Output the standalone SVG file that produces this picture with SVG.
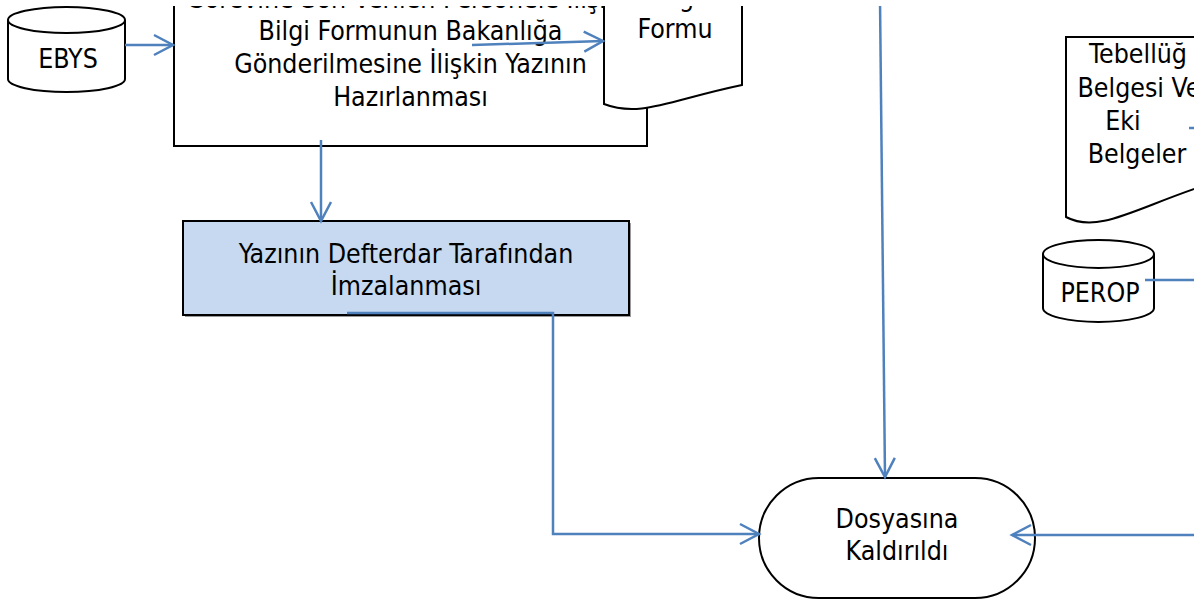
<svg xmlns="http://www.w3.org/2000/svg" width="1202" height="605" viewBox="0 0 1202 605">
<style>
.t{font-family:"DejaVu Sans Condensed","DejaVu Sans",sans-serif;font-stretch:condensed;font-size:26.5px;fill:#000;text-anchor:middle}
.n{fill:#fff;stroke:#000;stroke-width:2}
.c{fill:none;stroke:#4F81BD;stroke-width:2.5}
</style>
<defs>
<clipPath id="clip"><rect x="0" y="6" width="1194" height="599"/></clipPath>
<marker id="ah" markerWidth="24" markerHeight="26" refX="20" refY="12" orient="auto" markerUnits="userSpaceOnUse">
<path d="M1,2 L20,12 L1,22" fill="none" stroke="#4F81BD" stroke-width="2.5"/>
</marker>
</defs>
<rect width="1202" height="605" fill="#fff"/>
<g clip-path="url(#clip)">
<g id="ebys">
<path class="n" d="M8,20 L8,79 A58.5,13 0 0 0 125,79 L125,20 A58.5,13 0 0 0 8,20 Z"/>
<path class="n" fill="none" d="M8,20 A58.5,13 0 0 0 125,20"/>
<text class="t" x="68" y="68">EBYS</text>
</g>
<g id="hazirlama">
<rect class="n" x="174" y="-40" width="473" height="186"/>
<text class="t" x="410.5" y="8">Görevine Son Verilen Personele İlişkin</text>
<text class="t" x="410.5" y="40">Bilgi Formunun Bakanlığa</text>
<text class="t" x="410.5" y="73">Gönderilmesine İlişkin Yazının</text>
<text class="t" x="410.5" y="106">Hazırlanması</text>
</g>
<g id="bilgiformu">
<path class="n" d="M604,-40 L604,104 C640,118 670,100 742,85 L742,-40 Z"/>
<text class="t" x="675" y="6">Bilgi</text>
<text class="t" x="675" y="38">Formu</text>
</g>
<g id="imza">
<rect x="185" y="223" width="446" height="94" fill="#9a9a9a"/>
<rect x="183" y="221" width="446" height="94" fill="#C6D9F1" stroke="#000" stroke-width="2"/>
<text class="t" x="406" y="263">Yazının Defterdar Tarafından</text>
<text class="t" x="406" y="295">İmzalanması</text>
</g>
<g id="tebellug">
<path class="n" d="M1066,37 L1066,217 C1100,235 1140,205 1215,182 L1215,37 Z"/>
<text class="t" x="1138" y="63">Tebellüğ</text>
<text class="t" x="1139" y="97">Belgesi Ve</text>
<text class="t" x="1123" y="130">Eki</text>
<text class="t" x="1137" y="163">Belgeler</text>
</g>
<g id="perop">
<path class="n" d="M1043,254 L1043,308 A55.5,14 0 0 0 1154,308 L1154,254 A55.5,14 0 0 0 1043,254 Z"/>
<path class="n" fill="none" d="M1043,254 A55.5,14 0 0 0 1154,254"/>
<text class="t" x="1100" y="302">PEROP</text>
</g>
<g id="dosya">
<rect class="n" x="759" y="478" width="276" height="120" rx="60" ry="60"/>
<text class="t" x="897" y="528">Dosyasına</text>
<text class="t" x="897" y="560">Kaldırıldı</text>
</g>
<g id="connectors">
<line class="c" x1="125" y1="45" x2="173" y2="45" marker-end="url(#ah)"/>
<line class="c" x1="472" y1="45" x2="603" y2="41" marker-end="url(#ah)"/>
<line class="c" x1="321" y1="140" x2="321" y2="221" marker-end="url(#ah)"/>
<polyline class="c" points="347,313 553,313 553,534 759,534" marker-end="url(#ah)"/>
<line class="c" x1="880" y1="0" x2="885" y2="477" marker-end="url(#ah)"/>
<line class="c" x1="1202" y1="535" x2="1012" y2="535" marker-end="url(#ah)"/>
<line class="c" x1="1145" y1="280" x2="1202" y2="280"/>
<line class="c" x1="1189" y1="128" x2="1202" y2="128"/>
</g>
</g>
</svg>
